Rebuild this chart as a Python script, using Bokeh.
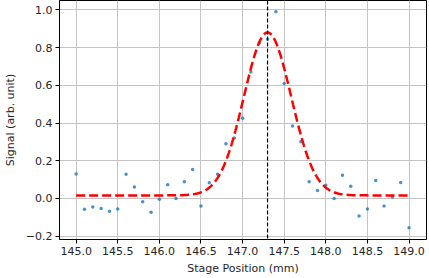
import numpy as np
from bokeh.plotting import figure
from bokeh.models import FixedTicker, Span, Range1d
from bokeh.embed import file_html
from bokeh.resources import INLINE

# measured data (stage position in mm, signal in arb. unit)
positions = [145.0, 145.1, 145.2, 145.3, 145.4, 145.5, 145.6, 145.7, 145.8, 145.9,
             146.0, 146.1, 146.2, 146.3, 146.4, 146.5, 146.6, 146.7, 146.8, 146.9,
             147.0, 147.1, 147.2, 147.3, 147.4, 147.5, 147.6, 147.7, 147.8, 147.9,
             148.0, 148.1, 148.2, 148.3, 148.4, 148.5, 148.6, 148.7, 148.8, 148.9,
             149.0]
signal = [0.130, -0.058, -0.046, -0.053, -0.068, -0.056, 0.128, 0.060, -0.018, -0.074,
          -0.005, 0.072, 0.000, 0.089, 0.153, -0.040, 0.083, 0.128, 0.290, 0.320,
          0.425, 0.670, 0.825, 0.844, 0.990, 0.610, 0.384, 0.300, 0.088, 0.042,
          0.070, 0.000, 0.123, 0.065, -0.093, -0.056, 0.095, -0.040, 0.007, 0.084,
          -0.155]

# gaussian fit parameters
fit_center = 147.3
fit_amplitude = 0.864
fit_sigma = 0.284
fit_offset = 0.016

x_ticks = [145.0, 145.5, 146.0, 146.5, 147.0, 147.5, 148.0, 148.5, 149.0]
y_ticks = [-0.2, 0.0, 0.2, 0.4, 0.6, 0.8, 1.0]

fit_x = np.linspace(min(positions), max(positions), 400)
fit_y = fit_offset + fit_amplitude * np.exp(-(fit_x - fit_center) ** 2 / (2 * fit_sigma ** 2))

FONT = "DejaVu Sans"
TXT = "#262626"

p = figure(width=429, height=278, output_backend="svg", toolbar_location=None,
           x_range=Range1d(144.8, 149.21), y_range=Range1d(-0.218, 1.05),
           min_border_left=58, min_border_right=3, min_border_top=0, min_border_bottom=39)

p.background_fill_color = "white"
p.border_fill_color = "white"
p.outline_line_color = "black"
p.outline_line_width = 1

for ax in (p.xaxis[0], p.yaxis[0]):
    ax.axis_line_color = "black"
    ax.axis_line_width = 1
    ax.major_tick_line_color = "black"
    ax.major_tick_out = 4
    ax.major_tick_in = 0
    ax.minor_tick_line_color = None
    ax.major_label_text_font = FONT
    ax.major_label_text_font_size = "11px"
    ax.major_label_text_color = TXT
    ax.axis_label_text_font = FONT
    ax.axis_label_text_font_size = "11px"
    ax.axis_label_text_font_style = "normal"
    ax.axis_label_text_color = TXT
    ax.major_label_standoff = 3

p.xaxis.ticker = FixedTicker(ticks=x_ticks)
p.xaxis.major_label_overrides = {t: f"{t:.1f}" for t in x_ticks}
p.yaxis.ticker = FixedTicker(ticks=y_ticks)
p.yaxis.major_label_overrides = {t: f"{t:.1f}".replace("-", "\u2212") for t in y_ticks}
p.xaxis.axis_label = "Stage Position (mm)"
p.yaxis.axis_label = "Signal (arb. unit)"
p.xaxis.axis_label_standoff = 4
p.yaxis.axis_label_standoff = 6

p.xgrid.ticker = FixedTicker(ticks=x_ticks)
p.ygrid.ticker = FixedTicker(ticks=y_ticks)
p.grid.grid_line_color = "#c4c4c4"
p.grid.grid_line_width = 1

p.scatter(positions, signal, size=3.5, color="#1f77b4", alpha=0.8, line_width=0)
p.line(fit_x, fit_y, line_color="red", line_width=2.5, line_dash="9 4")

vline = Span(location=fit_center, dimension="height", line_color="black",
             line_width=1.2, line_dash="4 2")
p.add_layout(vline)

open("out.html", "w").write(file_html(p, INLINE))
